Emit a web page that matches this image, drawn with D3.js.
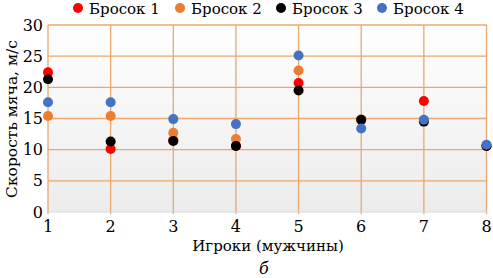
<!DOCTYPE html>
<html><head><meta charset="utf-8">
<script src="https://cdn.jsdelivr.net/npm/d3@7"></script>
<style>body{margin:0;background:#fff}svg{display:block}</style>
</head><body><svg id="c" width="493" height="278" font-family="'DejaVu Serif', 'Liberation Serif', serif"></svg>
<script>
const players = [1,2,3,4,5,6,7,8];
const seriesNames = ["Бросок 1","Бросок 2","Бросок 3","Бросок 4"];
const colors = ["#ff0000","#ed7d31","#000000","#4472c4"];
const throw1 = [22.4, 10.1, 11.5, 10.6, 20.7, 14.8, 17.8, 10.6];
const throw2 = [15.4, 15.4, 12.7, 11.7, 22.7, 14.8, 14.6, 10.6];
const throw3 = [21.3, 11.3, 11.4, 10.6, 19.5, 14.8, 14.5, 10.6];
const throw4 = [17.6, 17.6, 14.9, 14.1, 25.1, 13.4, 14.8, 10.8];
const yTicks = [0,5,10,15,20,25,30];
const xLabel = "Игроки (мужчины)";
const yLabel = "Скорость мяча, м/с";
const caption = "б";

const series = [throw1, throw2, throw3, throw4];
const svg = d3.select("#c");
const x = d3.scaleLinear().domain([1,8]).range([48,486.5]);
const y = d3.scaleLinear().domain([0,30]).range([212,25]);

const defs = svg.append("defs");
const g = defs.append("linearGradient").attr("id","bg").attr("x1",0).attr("y1",0).attr("x2",0).attr("y2",1);
g.append("stop").attr("offset","0%").attr("stop-color","#ffffff");
g.append("stop").attr("offset","100%").attr("stop-color","#ececec");
svg.append("rect").attr("x",x(1)).attr("y",y(30)).attr("width",x(8)-x(1)).attr("height",y(0)-y(30)).attr("fill","url(#bg)");

svg.append("g").selectAll("line").data(yTicks.filter(d=>d>0)).join("line")
  .attr("x1",x(1)).attr("x2",x(8)).attr("y1",d=>y(d)).attr("y2",d=>y(d))
  .attr("stroke","#eaa86c").attr("stroke-width",1.3);
svg.append("g").selectAll("line").data(players).join("line")
  .attr("x1",d=>x(d)).attr("x2",d=>x(d)).attr("y1",y(30)).attr("y2",y(0)+2)
  .attr("stroke","#eaa86c").attr("stroke-width",1.3);
svg.append("line").attr("x1",x(1)).attr("x2",x(8)).attr("y1",y(0)).attr("y2",y(0)).attr("stroke","#d9d9d9").attr("stroke-width",1);

svg.append("g").selectAll("text").data(yTicks).join("text")
  .attr("x",43).attr("y",d=>y(d)+5.5).attr("text-anchor","end").attr("font-size",16).attr("fill","#000").text(d=>d);
svg.append("g").selectAll("text").data(players).join("text")
  .attr("x",d=>x(d)).attr("y",232).attr("text-anchor","middle").attr("font-size",16).attr("fill","#000").text(d=>d);

svg.append("text").attr("x",268).attr("y",251).attr("text-anchor","middle").attr("font-size",15).text(xLabel);
svg.append("text").attr("transform","translate(17,119) rotate(-90)").attr("text-anchor","middle").attr("font-size",15.5).text(yLabel);
svg.append("text").attr("x",264).attr("y",274).attr("text-anchor","middle").attr("font-size",16).attr("font-style","italic").text(caption);

series.forEach((s,i)=>{
  svg.append("g").selectAll("circle").data(s).join("circle")
    .attr("cx",(d,j)=>x(players[j])).attr("cy",d=>y(d)).attr("r",5).attr("fill",colors[i]);
});

const legX = [78,180,281,382];
const leg = svg.append("g").selectAll("g").data(seriesNames).join("g");
leg.append("circle").attr("cx",(d,i)=>legX[i]).attr("cy",8).attr("r",5).attr("fill",(d,i)=>colors[i]);
leg.append("text").attr("x",(d,i)=>legX[i]+11).attr("y",13.5).attr("font-size",15).text(d=>d);
</script></body></html>
